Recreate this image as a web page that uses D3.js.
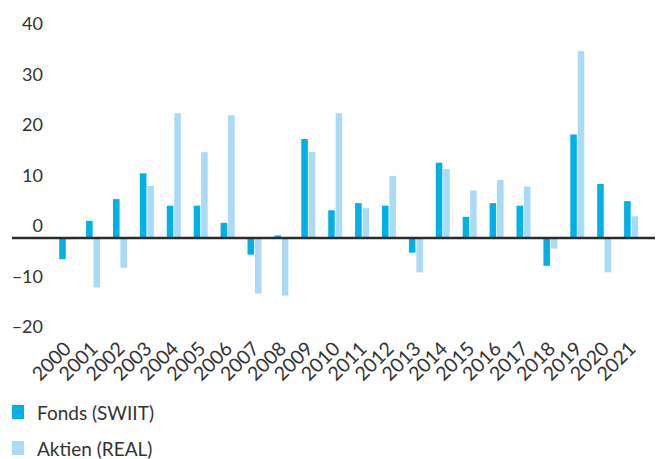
<!DOCTYPE html>
<html>
<head>
<meta charset="utf-8">
<script src="https://cdn.jsdelivr.net/npm/d3@7"></script>
<style>
  body { margin: 0; background: #fff; }
  svg { display: block; }
  text { font-family: Lato, "Open Sans", sans-serif; fill: #333; }
</style>
</head>
<body>
<svg id="chart" width="658" height="459"></svg>
<script>
const years = ["2000","2001","2002","2003","2004","2005","2006","2007","2008","2009","2010",
               "2011","2012","2013","2014","2015","2016","2017","2018","2019","2020","2021"];
const fonds  = [-4.2, 3.4, 7.7, 12.8, 6.4, 6.4, 3.0, -3.3, 0.5, 19.6, 5.5,
                 6.9, 6.4, -2.9, 14.9, 4.2, 6.9, 6.4, -5.5, 20.5, 10.7, 7.3];
const aktien = [-0.3, -9.8, -5.9, 10.3, 24.7, 17.0, 24.3, -11.0, -11.4, 17.0, 24.7,
                 5.9, 12.3, -6.8, 13.7, 9.4, 11.5, 10.2, -2.1, 37.0, -6.8, 4.3];
const yTicks = [-20, -10, 0, 10, 20, 30, 40];
const seriesNames = ["Fonds (SWIIT)", "Aktien (REAL)"];
const seriesColors = ["#00b1e7", "#a9dbf6"];

const svg = d3.select("#chart");

const y = d3.scaleLinear().domain([-20, 40]).range([339, 36]);
const step = 26.9;
const x = d3.scaleBand().domain(years)
  .range([66.2 - step / 2, 66.2 + 21 * step + step / 2])
  .paddingInner(0.48).paddingOuter(0.24);
const xs = d3.scaleBand().domain([0, 1]).range([0, x.bandwidth()]).paddingInner(0.12);

// y tick labels (placed above their value lines, no gridlines)
svg.append("g").selectAll("text").data(yTicks).join("text")
  .attr("x", 43).attr("y", d => y(d) - 6)
  .attr("text-anchor", "end")
  .style("font-size", "18px")
  .text(d => d < 0 ? "\u2013" + Math.abs(d) : d);

const data = years.map((yr, i) => ({ yr, vals: [fonds[i], aktien[i]] }));

const g = svg.append("g");
data.forEach(d => {
  d.vals.forEach((v, k) => {
    g.append("rect")
      .attr("x", x(d.yr) + xs(k))
      .attr("width", xs.bandwidth())
      .attr("y", Math.min(y(v), y(0)))
      .attr("height", Math.abs(y(v) - y(0)))
      .attr("fill", seriesColors[k]);
  });
});

// zero line
svg.append("line")
  .attr("x1", 12).attr("x2", 655)
  .attr("y1", y(0)).attr("y2", y(0))
  .attr("stroke", "#2b2b2b").attr("stroke-width", 2.5);

// x labels rotated
svg.append("g").selectAll("text").data(years).join("text")
  .attr("transform", d => `translate(${x(d) + x.bandwidth() / 2 + 6},${350}) rotate(-45)`)
  .attr("text-anchor", "end")
  .style("font-size", "19.5px")
  .text(d => d);

// legend
const leg = svg.append("g");
seriesNames.forEach((n, k) => {
  const yy = 405 + k * 36;
  leg.append("rect").attr("x", 12).attr("y", yy).attr("width", 12).attr("height", 14)
    .attr("fill", seriesColors[k]);
  leg.append("text").attr("x", 37).attr("y", yy + 15)
    .style("font-size", "19px").text(n);
});
</script>
</body>
</html>
